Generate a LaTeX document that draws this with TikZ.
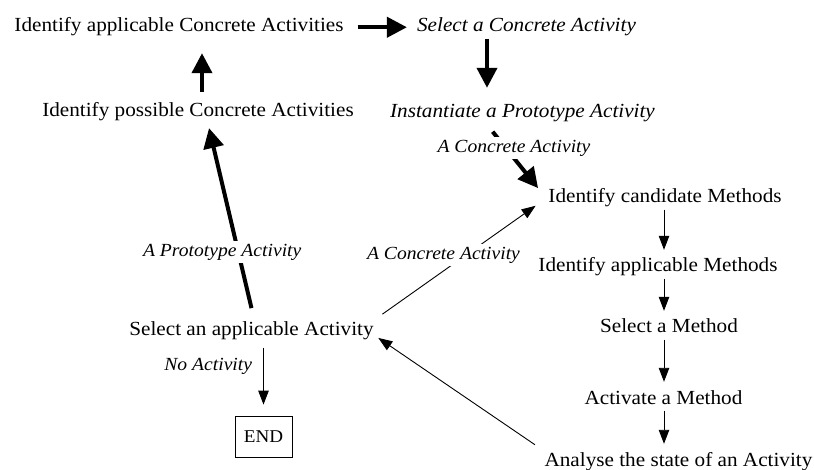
\documentclass[tikz,border=0pt]{standalone}
\usepackage{fontspec}
\setmainfont[FakeStretch=1.06]{Liberation Serif}
\usetikzlibrary{arrows.meta}

\begin{document}
\begin{tikzpicture}[x=1pt,y=-1pt,
    task/.style={anchor=base,inner sep=2pt,text height=14pt,text depth=4.5pt,
        font=\fontsize{20}{24}\selectfont},
    itask/.style={task,font=\fontsize{20}{24}\selectfont\itshape},
    lbl/.style={fill=white,inner xsep=1pt,inner ysep=3pt,
        font=\fontsize{18.5}{22}\selectfont\itshape},
    endbox/.style={draw,line width=0.8pt,minimum width=57pt,minimum height=41pt,
        inner sep=0pt,font=\fontsize{18}{22}\selectfont},
    fat/.style={line width=4pt,-{Triangle[length=20pt,width=20pt]}},
    slim/.style={line width=0.9pt,-{Triangle[length=14pt,width=10.5pt]}}]
    \useasboundingbox[fill=white] (0,0) rectangle (814,470);

    % Activity side
    \node[task]  (appca) at (179,32)   {Identify applicable Concrete Activities};
    \node[itask] (selca) at (526.5,32) {Select a Concrete Activity};
    \node[task]  (posca) at (198,117)  {Identify possible Concrete Activities};
    \node[itask] (inst)  at (522.5,118) {Instantiate a Prototype Activity};
    \node[task]  (selact) at (251.5,335) {Select an applicable Activity};
    \node[endbox] (endb) at (263.5,436.5) {END};

    % Method side
    \node[task] (cand) at (665,203)   {Identify candidate Methods};
    \node[task] (appm) at (658,272)   {Identify applicable Methods};
    \node[task] (selm) at (669,333)   {Select a Method};
    \node[task] (actm) at (663.5,404) {Activate a Method};
    \node[task] (anal) at (678.5,466) {Analyse the state of an Activity};

    % Columns of the vertical arrows
    \coordinate (upcol) at (202,0);
    \coordinate (icol) at (487,0);
    \coordinate (mcol) at (664,0);

    % Thick arrows
    \draw[fat,shorten <=12pt,shorten >=8pt] (appca.east) -- (selca.west);
    \draw[fat,shorten >=14pt] (selca.south -| icol) -- (inst.north -| icol);
    \draw[fat,shorten <=9pt,shorten >=14.5pt] (posca.north -| upcol) -- (appca.south -| upcol);
    \draw[fat,shorten <=9pt,shorten >=13pt] (inst.south -| icol) --
        node[lbl,pos=0.32,xshift=8pt] {A Concrete Activity} (cand.west);
    \draw[fat,shorten <=11pt,shorten >=4.5pt] ([xshift=2.5pt]selact.north) --
        node[lbl,pos=0.343,xshift=-16pt] {A Prototype Activity} ([xshift=10pt]posca.south);

    % Thin arrows
    \foreach \a/\b in {cand/appm,appm/selm,selm/actm,actm/anal}
        \draw[slim,shorten >=6pt] (\a.south -| mcol) -- (\b.north -| mcol);
    \draw[slim,shorten <=8pt,shorten >=13pt] (selact.north east) --
        node[lbl,pos=0.397,yshift=16pt] {A Concrete Activity} (cand.west);
    \draw[slim,shorten <=9pt,shorten >=3pt] (anal.north west) -- ([yshift=-6pt]selact.east);
    \draw[slim,shorten <=6pt,shorten >=11pt] (selact.south -| endb.north) --
        node[lbl,pos=0.33,anchor=east,xshift=-10pt] {No Activity} (endb.north);
\end{tikzpicture}
\end{document}
